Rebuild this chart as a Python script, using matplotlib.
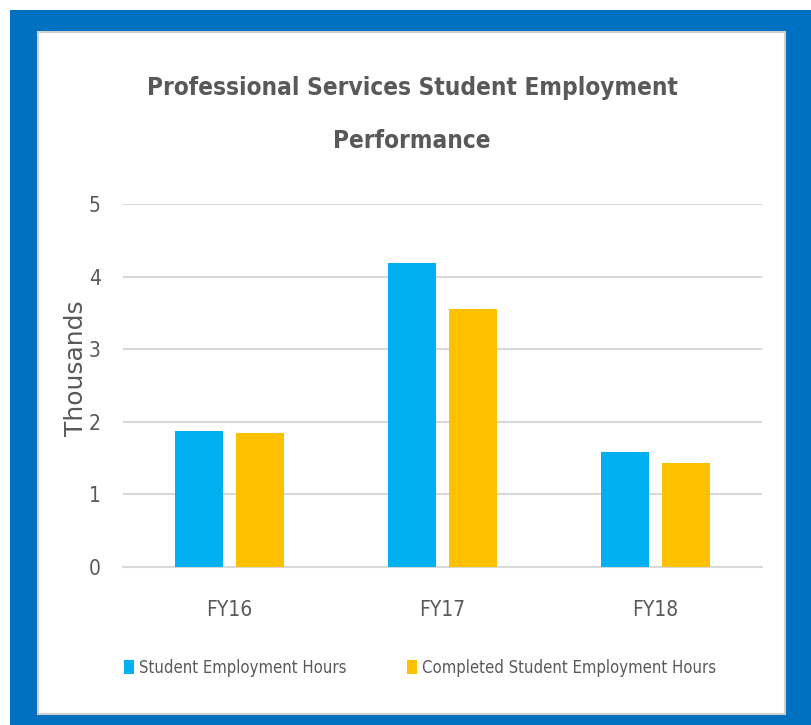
import numpy as np
import matplotlib.pyplot as plt
from matplotlib.patches import Rectangle

categories = ["FY16", "FY17", "FY18"]
student_hours = [1.88, 4.19, 1.58]
completed_hours = [1.85, 3.55, 1.43]
series_names = ["Student Employment Hours", "Completed Student Employment Hours"]
colors = ["#00B0F0", "#FFC000"]

plt.rcParams['font.family'] = ['DejaVu Sans']
plt.rcParams['font.stretch'] = 'condensed'
text_color = "#595959"

W, H = 812, 725
fig = plt.figure(figsize=(W / 100, H / 100), dpi=100)


def fx(px):
    return px / W


def fy(py):
    return 1 - py / H


# blue frame and white panel
fig.patches.append(Rectangle((fx(10), fy(725)), fx(802), 715 / H, transform=fig.transFigure,
                             facecolor="#0070C0", edgecolor="none", zorder=0))
fig.patches.append(Rectangle((fx(38), fy(714)), fx(747), 682 / H, transform=fig.transFigure,
                             facecolor="white", edgecolor="#D0D0D0", linewidth=1.5, zorder=1))

ax = fig.add_axes([fx(123), fy(567), fx(762 - 123), (567 - 204) / H])
ax.set_zorder(2)
ax.patch.set_visible(False)

x = np.arange(len(categories))
w = 0.225
off = 0.143
ax.bar(x - off, student_hours, w, color=colors[0], label=series_names[0], zorder=3)
ax.bar(x + off, completed_hours, w, color=colors[1], label=series_names[1], zorder=3)

ax.set_xlim(-0.5, 2.5)
ax.set_ylim(0, 5)
ax.set_yticks(range(6))
ax.yaxis.grid(True, color="#D9D9D9", linewidth=1.5, zorder=0)
ax.set_axisbelow(True)
for s in ["top", "right", "left"]:
    ax.spines[s].set_visible(False)
ax.spines["bottom"].set_color("#D9D9D9")
ax.spines["bottom"].set_linewidth(1.5)
ax.tick_params(axis="both", length=0, colors=text_color, labelsize=15)
ax.tick_params(axis="y", pad=16)
ax.tick_params(axis="x", pad=24)
ax.set_xticks(x)
ax.set_xticklabels(categories)

fig.text(fx(76), fy(368), "Thousands", rotation=90, ha="center", va="center",
         fontsize=18, color=text_color, fontstretch="normal")

fig.text(fx(412), fy(88), "Professional Services Student Employment", ha="center", va="center",
         fontsize=17.5, fontweight="bold", color=text_color)
fig.text(fx(412), fy(141), "Performance", ha="center", va="center",
         fontsize=17.5, fontweight="bold", color=text_color)

fig.legend(loc="center", bbox_to_anchor=(fx(420), fy(668)), ncol=2, frameon=False,
           fontsize=12, labelcolor=text_color, handlelength=0.6, handleheight=0.9,
           handletextpad=0.3, columnspacing=3.6)

fig.savefig("out.png", dpi=100)
